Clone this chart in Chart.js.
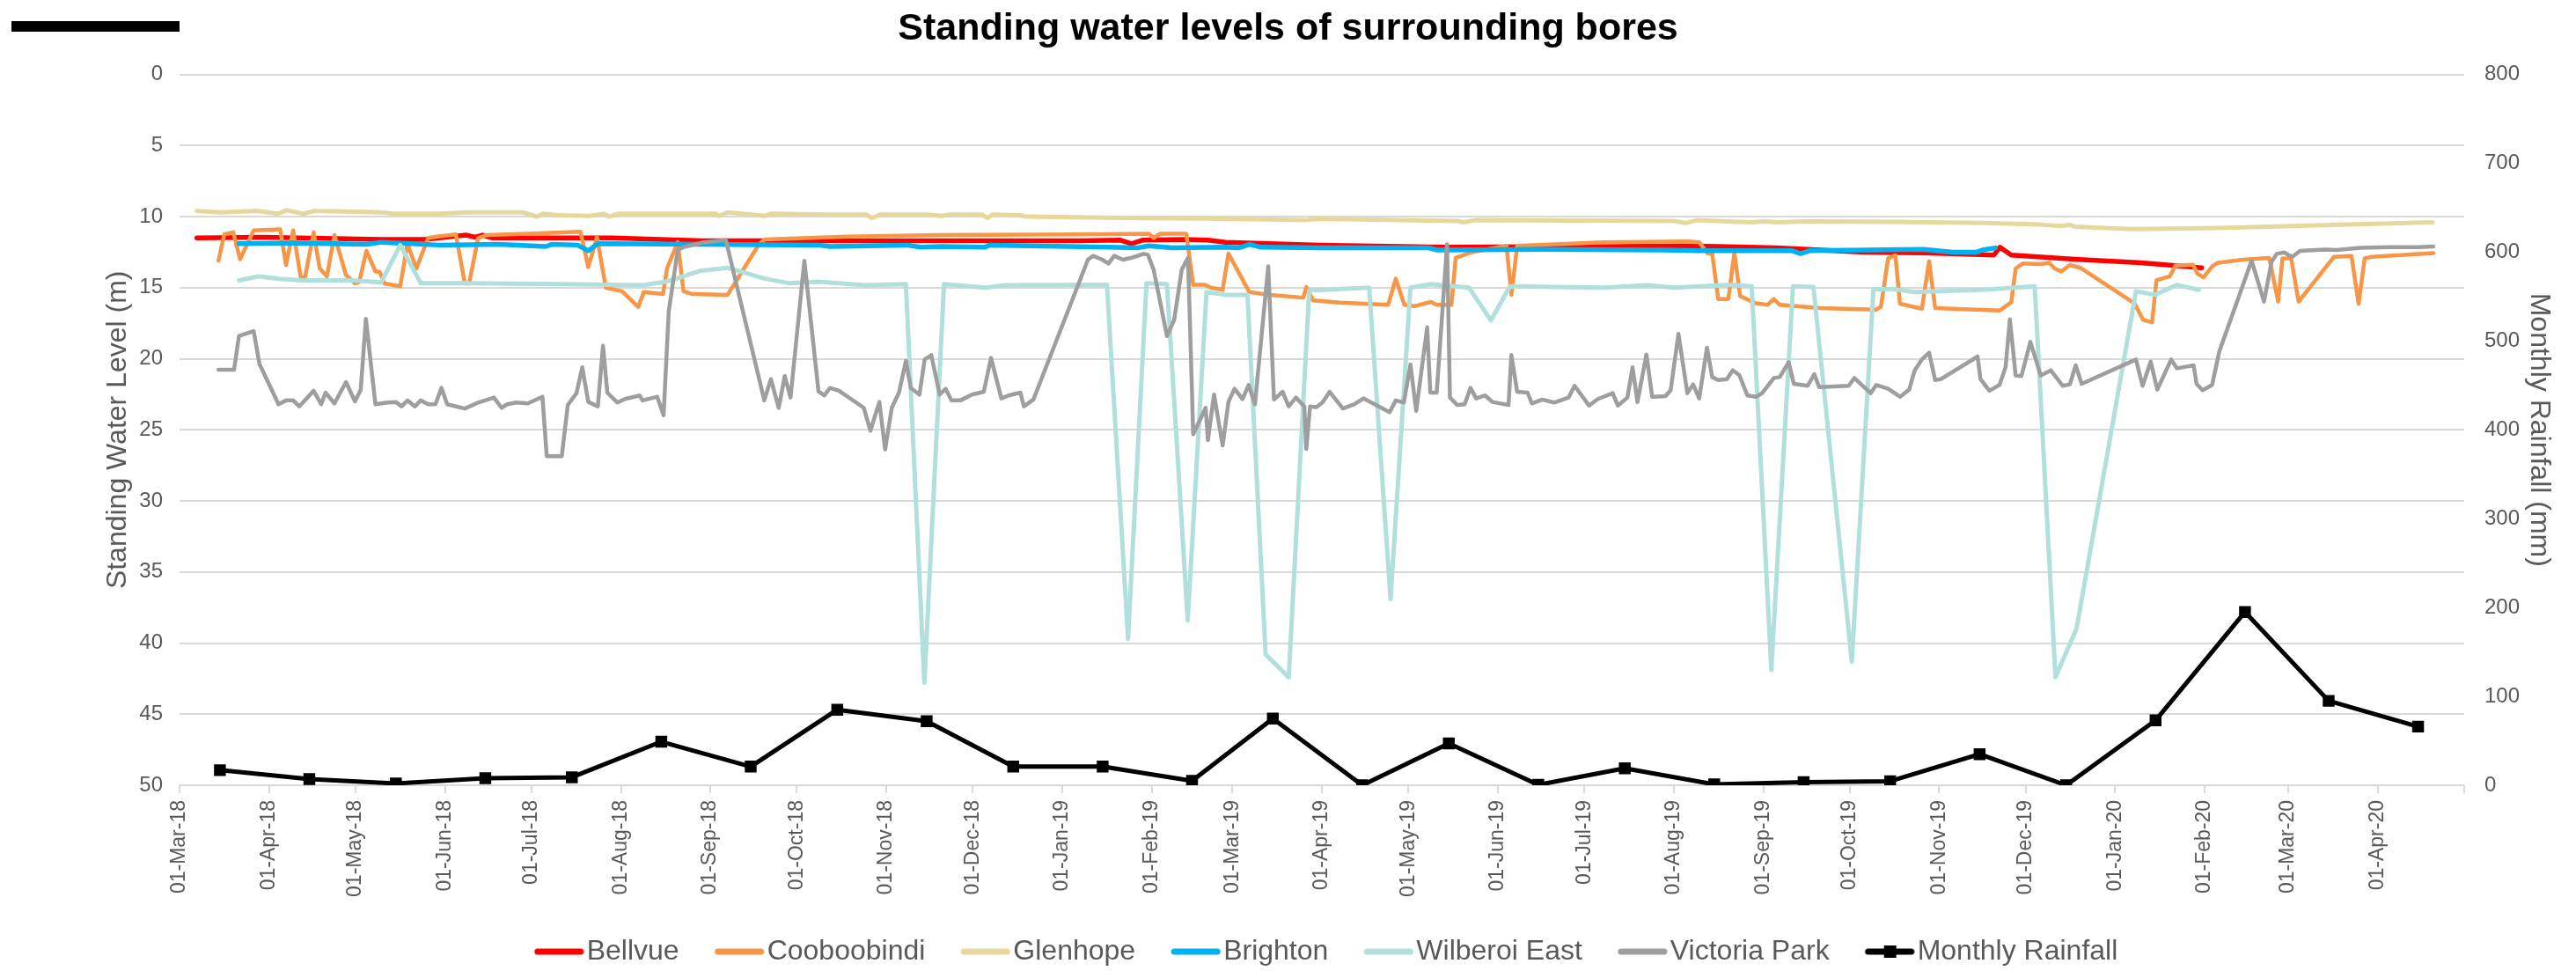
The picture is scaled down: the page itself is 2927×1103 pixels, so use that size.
<!DOCTYPE html>
<html>
<head>
<meta charset="utf-8">
<title>Standing water levels of surrounding bores</title>
<script src="https://cdn.jsdelivr.net/npm/chart.js@4.4.1/dist/chart.umd.min.js"></script>
<style>
  html, body { margin: 0; padding: 0; background: #fff; }
  #wrap { position: relative; width: 2927px; height: 1103px; }
  #bar { position: absolute; left: 13px; top: 24px; width: 191px; height: 12px; background: #000; }
</style>
</head>
<body>
<div id="wrap">
  <canvas id="chart"></canvas>
  <div id="bar"></div>
</div>
<script>
// ---- x axis: monthly ticks (day 0 = 01-Mar-18) ----
const tickLabels = [
  '01-Mar-18', '01-Apr-18', '01-May-18', '01-Jun-18', '01-Jul-18', '01-Aug-18',
  '01-Sep-18', '01-Oct-18', '01-Nov-18', '01-Dec-18', '01-Jan-19', '01-Feb-19',
  '01-Mar-19', '01-Apr-19', '01-May-19', '01-Jun-19', '01-Jul-19', '01-Aug-19',
  '01-Sep-19', '01-Oct-19', '01-Nov-19', '01-Dec-19', '01-Jan-20', '01-Feb-20',
  '01-Mar-20', '01-Apr-20'
];
const axisEndLabel = '01-May-20';

// ---- monthly rainfall (mm), plotted mid-month ----
const rainfall = [17, 7, 2, 8, 9, 49, 21, 85, 72, 21, 21, 5, 75, 0, 47, 0.5, 19, 1, 3.5, 4.5, 35, 0, 73, 195, 95, 66];

// ---- standing water levels (m below surface), days since 01-Mar-18 ----
const bellvueDay   = [6, 29, 70, 85, 99.4, 102.5, 105, 108.5, 150, 181, 232, 264, 312, 326, 330, 334, 348, 356.5, 362.6, 395, 438, 494, 523, 553.7, 584, 604.5, 629, 631, 635, 657, 680, 701];
const bellvueLevel = [11.5, 11.45, 11.6, 11.6, 11.3, 11.45, 11.3, 11.5, 11.5, 11.7, 11.7, 11.7, 11.7, 11.65, 11.9, 11.65, 11.6, 11.65, 11.8, 12.0, 12.15, 12.1, 12.05, 12.2, 12.5, 12.55, 12.7, 12.15, 12.7, 13.0, 13.25, 13.6];

const coobooDay = [13.5, 15.5, 18.6, 21, 25.7, 34.9, 36.9, 39.4, 42, 43.5, 46.5, 48.6, 51.1, 53.7, 57.7, 60.8, 62.3, 64.8, 67.9, 69.4, 71, 76.5, 79, 82.1, 86.2, 89.2, 95.8, 98.9, 100.4, 103.5, 106.5, 120.7, 139, 141.7, 144.7, 147.8, 153.4, 159, 161, 167.6, 169, 172.7, 174.7, 177.8, 190, 201, 203, 231.6, 264, 311.8, 336, 337.7, 340, 349, 351.4, 355.5, 357.5, 361.6, 363.6, 366.7, 370.8, 377.9, 389.6, 390.6, 393, 402, 419, 421.6, 424.6, 428, 433.8, 435.8, 440.9, 442.4, 448, 460, 461.7, 463.7, 493.7, 523, 526.8, 529.8, 531.3, 533.4, 536.9, 539, 541, 546.6, 550.6, 552.7, 554.7, 568.9, 588.2, 589.8, 592.3, 594.8, 596.4, 604, 606.5, 608.6, 631, 635, 636.5, 639, 645, 648.2, 650, 652.3, 655.3, 658.9, 677.7, 680.7, 683.8, 685.3, 689.9, 691.9, 698, 699.5, 701.6, 704.6, 706.6, 715.3, 724.4, 727.5, 729, 732, 734.6, 746.8, 752.9, 755.4, 757.5, 760, 781.3];
const coobooLevel = [13.1, 11.25, 11.1, 13.0, 10.97, 10.9, 13.4, 10.97, 14.27, 14.27, 11.1, 13.65, 14.2, 11.3, 14.1, 14.7, 14.6, 12.4, 13.85, 13.9, 14.7, 14.9, 11.9, 13.65, 11.5, 11.4, 11.25, 14.7, 14.7, 11.5, 11.3, 11.2, 11.07, 13.55, 11.45, 15.0, 15.25, 16.35, 15.3, 15.45, 13.65, 11.8, 15.25, 15.45, 15.5, 11.9, 11.6, 11.4, 11.3, 11.25, 11.2, 11.5, 11.2, 11.2, 14.8, 14.8, 15.0, 15.15, 12.6, 13.75, 15.3, 15.5, 15.7, 14.95, 15.9, 16.05, 16.2, 14.37, 16.2, 16.3, 16.0, 16.2, 16.2, 12.9, 12.5, 12.05, 15.5, 12.05, 11.8, 11.75, 11.8, 12.6, 12.6, 15.8, 15.8, 12.55, 15.6, 16.1, 16.2, 15.8, 16.2, 16.44, 16.54, 16.33, 12.93, 12.72, 16.13, 16.48, 13.14, 16.44, 16.6, 16.02, 13.65, 13.3, 13.34, 13.26, 13.65, 13.86, 13.4, 13.6, 16.1, 17.26, 17.43, 14.48, 14.2, 13.45, 13.38, 14.0, 14.27, 13.5, 13.24, 13.03, 12.9, 15.98, 12.93, 12.93, 15.98, 12.83, 12.76, 16.13, 12.93, 12.83, 12.56];

const glenhopeDay   = [6, 14, 27, 34, 37, 43, 46.5, 70, 74, 90, 100, 119, 124, 126, 131, 142, 147, 149, 152, 186, 187, 190, 203, 205, 225.5, 238, 240, 243, 259, 264, 267, 278, 280, 282, 291.5, 293.5, 332, 362.6, 390, 395, 422.5, 443, 445, 449, 518, 522, 526, 538, 545, 549, 553.7, 564, 594, 625, 645, 652, 655.3, 657, 677, 705, 725, 746, 781];
const glenhopeLevel = [9.6, 9.7, 9.6, 9.8, 9.55, 9.8, 9.6, 9.7, 9.8, 9.8, 9.7, 9.7, 10.0, 9.8, 9.9, 9.95, 9.8, 10.0, 9.8, 9.8, 9.95, 9.7, 9.95, 9.8, 9.85, 9.85, 10.1, 9.85, 9.85, 9.95, 9.85, 9.85, 10.1, 9.85, 9.9, 10.0, 10.1, 10.15, 10.25, 10.15, 10.25, 10.3, 10.4, 10.25, 10.3, 10.45, 10.25, 10.35, 10.4, 10.33, 10.4, 10.33, 10.37, 10.45, 10.56, 10.66, 10.58, 10.7, 10.87, 10.8, 10.7, 10.58, 10.4];

const brightonDay   = [20.6, 39.4, 65, 70, 90, 110.6, 127, 129, 138, 141.7, 145, 181, 221.5, 225.5, 252, 257, 264, 279, 281, 322, 332, 336, 344, 362.6, 367, 371, 375, 395, 433, 436, 473, 514, 526, 559, 562, 565, 604.5, 614.7, 623, 625, 629.4];
const brightonLevel = [11.9, 11.85, 11.95, 11.8, 12.0, 11.95, 12.1, 11.95, 12.0, 12.4, 11.9, 11.95, 12.0, 12.1, 12.0, 12.15, 12.1, 12.15, 12.0, 12.15, 12.2, 12.05, 12.2, 12.15, 12.2, 11.95, 12.15, 12.2, 12.2, 12.35, 12.3, 12.35, 12.4, 12.4, 12.6, 12.4, 12.3, 12.5, 12.5, 12.35, 12.2];

const wilberoiDay   = [20.6, 27.7, 34.3, 42.5, 59.8, 69.9, 76.5, 83.6, 100.4, 133, 160.5, 168.6, 180.8, 190, 203, 211.3, 221.5, 237.7, 251.8, 258.2, 265, 279.3, 286.4, 321.5, 328.8, 335.2, 342.3, 349.5, 356, 362.6, 370.2, 376.5, 384.5, 391.6, 412.4, 419.8, 426.7, 433.8, 447, 454.6, 461.2, 493.7, 509, 518.1, 538.4, 545, 551.8, 559.3, 566.4, 579.7, 587.2, 594.3, 601.4, 624.8, 643.1, 650.3, 657.6, 678.2, 684.8, 692.4, 700];
const wilberoiLevel = [14.48, 14.2, 14.37, 14.48, 14.48, 14.62, 12.0, 14.68, 14.68, 14.75, 14.83, 14.58, 13.8, 13.6, 14.37, 14.68, 14.58, 14.83, 14.75, 42.8, 14.75, 15.0, 14.83, 14.79, 39.7, 14.68, 14.75, 38.4, 15.3, 15.5, 15.5, 40.8, 42.4, 15.2, 15.0, 36.9, 15.0, 14.75, 15.0, 17.3, 14.9, 15.0, 14.83, 15.0, 14.79, 14.9, 41.9, 14.9, 14.95, 41.3, 15.1, 15.1, 15.3, 15.15, 14.9, 42.4, 39.0, 15.25, 15.5, 14.8, 15.15];

const victoriaDay = [13.5, 18.9, 20.6, 25.7, 27.7, 31.3, 34.3, 36.9, 39.4, 41.5, 46.5, 49.1, 50.6, 53.7, 57.7, 60.8, 62.8, 64.6, 67.9, 72, 75, 77, 79, 81.6, 83.6, 86.2, 88.7, 90.8, 92.8, 98.9, 103.5, 109, 111.6, 113.6, 116.7, 120.7, 125.8, 127.3, 132.5, 134.6, 137.6, 139.6, 141.7, 145, 146.8, 148.3, 151.8, 154.4, 159.5, 160.5, 165.6, 167.8, 169.6, 172.7, 174.7, 181.8, 189.4, 194, 199, 202.7, 205, 207.7, 209.8, 211.8, 216.6, 221.5, 223.5, 225.5, 228.6, 237.2, 239.5, 242.6, 244.6, 246.9, 249.4, 251.8, 253.5, 256.5, 258.3, 260.6, 263.5, 265.6, 267.6, 270.7, 274.7, 278.8, 281.3, 284.9, 287.4, 291.5, 292.7, 296, 314.9, 316.7, 319.9, 322, 324, 327, 330.1, 334.2, 335.7, 337.7, 342.3, 344.8, 347.4, 349.6, 351.4, 355.7, 356.5, 358.6, 361.6, 363.6, 365.7, 368.5, 370.6, 372.8, 377.4, 379.4, 382.4, 384.5, 387, 389.9, 390.6, 391.9, 394.1, 396.2, 398.7, 403.3, 407.3, 410.4, 419.5, 421.6, 424.4, 426.7, 428.7, 432.5, 433.6, 435.8, 439.4, 440.4, 442.9, 445.5, 447.5, 449.5, 452.6, 455.1, 460.7, 461.7, 463.7, 467.3, 468.8, 472.4, 476.5, 481.5, 483.6, 488.6, 491.7, 496.8, 498.6, 501.9, 503.7, 505.4, 508.5, 510.5, 515.1, 516.9, 519.6, 522.7, 524.7, 526.8, 529.5, 531.3, 533.4, 536.4, 538.4, 540.7, 543.5, 546.6, 548.6, 552.7, 554.7, 557.8, 559.6, 564.4, 566.7, 568.4, 578.6, 580.6, 586.2, 588.2, 592.3, 596.4, 599.6, 601.5, 604, 606.5, 608.6, 610.6, 623.3, 624.3, 627.4, 630.9, 633, 634.5, 636.5, 638.5, 641.6, 645.2, 648.7, 652.8, 655.3, 657.3, 659.4, 678.2, 680.5, 683.3, 685.6, 690.4, 692.4, 698.2, 699.2, 701.3, 704.6, 707.1, 718.3, 722.6, 725.2, 727, 729.5, 732.4, 735.1, 743.7, 747.8, 755.9, 766.1, 776.3, 781.3];
const victoriaLevel = [20.77, 20.77, 18.4, 18.05, 20.36, 21.9, 23.2, 22.93, 22.93, 23.35, 22.25, 23.2, 22.38, 23.14, 21.64, 23.0, 22.2, 17.2, 23.2, 23.08, 23.04, 23.35, 22.93, 23.35, 22.93, 23.2, 23.2, 22.05, 23.2, 23.5, 23.08, 22.73, 23.45, 23.2, 23.08, 23.14, 22.67, 26.86, 26.86, 23.25, 22.42, 20.6, 23.04, 23.35, 19.08, 22.38, 23.08, 22.83, 22.58, 22.93, 22.67, 23.97, 16.64, 12.35, 12.15, 11.8, 11.65, 15.57, 19.78, 22.93, 21.43, 23.45, 21.22, 22.73, 13.1, 22.3, 22.58, 22.05, 22.25, 23.45, 25.06, 23.04, 26.38, 23.45, 22.38, 20.15, 22.05, 22.52, 20.05, 19.74, 22.52, 22.11, 22.93, 22.93, 22.52, 22.32, 19.94, 22.79, 22.58, 22.38, 23.35, 22.87, 13.03, 12.76, 13.03, 13.3, 12.76, 13.03, 12.89, 12.62, 12.68, 13.75, 18.4, 17.26, 13.75, 12.89, 25.31, 23.45, 25.72, 22.52, 26.09, 23.04, 22.11, 22.83, 21.84, 23.2, 13.5, 22.87, 22.32, 23.35, 22.73, 23.35, 26.34, 23.35, 23.4, 23.08, 22.32, 23.5, 23.2, 22.79, 23.76, 22.93, 23.08, 20.4, 23.66, 17.78, 22.38, 22.38, 11.94, 22.73, 23.25, 23.2, 22.05, 22.79, 22.58, 23.04, 23.25, 19.74, 22.32, 22.38, 23.14, 22.87, 23.08, 22.73, 21.9, 23.29, 22.83, 22.42, 23.29, 22.73, 20.6, 23.04, 19.7, 22.67, 22.63, 22.21, 18.25, 22.42, 21.8, 22.79, 19.22, 21.29, 21.5, 21.43, 20.81, 21.14, 22.58, 22.67, 22.42, 21.35, 21.29, 20.25, 21.76, 21.9, 21.08, 22.0, 21.9, 21.35, 22.42, 21.84, 22.11, 22.67, 22.17, 20.81, 20.05, 19.57, 21.5, 21.43, 19.84, 21.43, 22.25, 21.84, 20.6, 17.22, 21.18, 21.22, 18.81, 21.18, 20.81, 21.9, 21.8, 20.46, 21.76, 20.05, 21.9, 20.2, 22.17, 20.05, 20.67, 20.46, 21.76, 22.21, 21.84, 19.49, 13.09, 15.98, 13.18, 12.62, 12.52, 12.83, 12.41, 12.31, 12.35, 12.2, 12.15, 12.15, 12.1];

// ---- helpers ----
const MONTHS = ['Jan', 'Feb', 'Mar', 'Apr', 'May', 'Jun', 'Jul', 'Aug', 'Sep', 'Oct', 'Nov', 'Dec'];
const ORIGIN = Date.UTC(2018, 2, 1);
function labelToDay(label) {
  const [d, m, y] = label.split('-');
  return Math.round((Date.UTC(2000 + +y, MONTHS.indexOf(m), +d) - ORIGIN) / 86400000);
}
const tickDays = tickLabels.map(labelToDay);
const axisEnd = labelToDay(axisEndLabel);
const rainDays = tickDays.map(d => d + 14);

const pts = (xs, ys) => xs.map((x, i) => ({ x, y: ys[i] }));

const GREY_TEXT = '#595959';
const GRID = '#d9d9d9';
Chart.defaults.font.family = '"Liberation Sans", Arial, sans-serif';
Chart.defaults.color = GREY_TEXT;

// legend swatches: a short line (plus a square marker for rainfall),
// drawn on the right part of a wider canvas so the text sits close to it
function swatch(color, marker) {
  const c = document.createElement('canvas');
  c.width = 79; c.height = 16;
  const g = c.getContext('2d');
  g.strokeStyle = color;
  g.lineWidth = 7;
  g.lineCap = 'round';
  g.beginPath(); g.moveTo(26, 8); g.lineTo(75, 8); g.stroke();
  if (marker) { g.fillStyle = color; g.fillRect(44, 1, 14, 14); }
  return c;
}

const levelLine = (label, data, color, width) => ({
  label, data, yAxisID: 'yLevel',
  borderColor: color, backgroundColor: color, borderWidth: width,
  pointRadius: 0, tension: 0, borderJoinStyle: 'round', borderCapStyle: 'round'
});

const datasets = [
  levelLine('Bellvue', pts(bellvueDay, bellvueLevel), '#FF0000', 5.5),
  levelLine('Cooboobindi', pts(coobooDay, coobooLevel), '#F79646', 4.5),
  levelLine('Glenhope', pts(glenhopeDay, glenhopeLevel), '#E6D89C', 5),
  levelLine('Brighton', pts(brightonDay, brightonLevel), '#00B0F0', 5.5),
  levelLine('Wilberoi East', pts(wilberoiDay, wilberoiLevel), '#B1E0DC', 5),
  levelLine('Victoria Park', pts(victoriaDay, victoriaLevel), '#9E9E9E', 4.5),
  {
    label: 'Monthly Rainfall', data: pts(rainDays, rainfall), yAxisID: 'yRain',
    borderColor: '#000', backgroundColor: '#000', borderWidth: 5,
    pointStyle: 'rect', pointRadius: 9.5, pointBackgroundColor: '#000', pointBorderWidth: 0,
    tension: 0, borderJoinStyle: 'round'
  }
];
// excel draws later series on top
datasets.forEach((d, i) => { d.order = datasets.length - i; });
const swatches = datasets.map(d => swatch(d.borderColor, d.pointStyle === 'rect'));

new Chart(document.getElementById('chart'), {
  type: 'line',
  data: { datasets },
  options: {
    responsive: true,
    maintainAspectRatio: false,
    animation: false,
    layout: { padding: { left: 0, right: 0, top: 0, bottom: -4 } },
    plugins: {
      title: {
        display: true,
        text: 'Standing water levels of surrounding bores',
        color: '#000',
        font: { size: 43, weight: 'bold' },
        padding: { top: 7, bottom: 26 }
      },
      legend: {
        position: 'bottom',
        fullSize: false,
        labels: {
          usePointStyle: true,
          pointStyleWidth: 53,
          boxHeight: 16,
          padding: 31,
          color: GREY_TEXT,
          font: { size: 32 },
          sort: (a, b) => a.datasetIndex - b.datasetIndex,
          generateLabels: chart => Chart.defaults.plugins.legend.labels.generateLabels(chart)
            .map(item => Object.assign(item, { pointStyle: swatches[item.datasetIndex] }))
        }
      },
      tooltip: { enabled: false }
    },
    scales: {
      x: {
        type: 'linear',
        min: 0,
        max: axisEnd,
        afterBuildTicks: s => { s.ticks = tickDays.concat([axisEnd]).map(value => ({ value })); },
        afterFit: s => { s.height = 142; },
        ticks: {
          autoSkip: false,
          minRotation: 90,
          maxRotation: 90,
          padding: 8,
          color: GREY_TEXT,
          font: { size: 23 },
          callback: (v, i) => tickLabels[i] || ''
        },
        grid: { drawOnChartArea: false, color: GRID, lineWidth: 2, tickLength: 9 },
        border: { display: false }
      },
      yLevel: {
        position: 'left',
        reverse: true,
        min: 0,
        max: 50,
        afterFit: s => { s.width = 204; },
        ticks: { stepSize: 5, padding: 19, color: GREY_TEXT, font: { size: 24 } },
        grid: { color: GRID, lineWidth: 2, drawTicks: false },
        border: { display: false },
        title: {
          display: true,
          text: 'Standing Water Level (m)',
          color: GREY_TEXT,
          font: { size: 32 },
          padding: { top: 115, bottom: 0 }
        }
      },
      yRain: {
        position: 'right',
        min: 0,
        max: 800,
        afterFit: s => { s.width = 127; },
        ticks: { stepSize: 100, padding: 23, color: GREY_TEXT, font: { size: 24 } },
        grid: { drawOnChartArea: false, drawTicks: false },
        border: { display: false },
        title: {
          display: true,
          text: 'Monthly Rainfall (mm)',
          color: GREY_TEXT,
          font: { size: 32 },
          padding: { top: 23, bottom: 0 }
        }
      }
    }
  }
});
</script>
</body>
</html>
